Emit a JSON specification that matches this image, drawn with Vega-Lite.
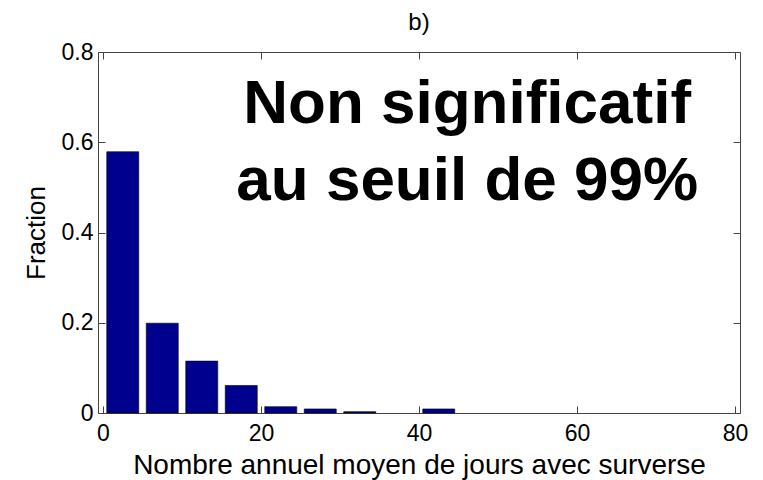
{
  "$schema": "https://vega.github.io/schema/vega-lite/v6.json",
  "width": 642,
  "height": 361,
  "autosize": {"type": "none"},
  "padding": {"left": 98, "top": 52, "right": 23, "bottom": 67},
  "background": "white",
  "config": {
    "font": "Liberation Sans",
    "view": {"stroke": "#444", "strokeWidth": 1},
    "axis": {"grid": false, "domain": false, "tickColor": "#444", "labelColor": "black", "titleColor": "black", "labelFont": "Liberation Sans", "titleFont": "Liberation Sans", "titleFontWeight": "normal"}
  },
  "title": {"text": "b)", "fontSize": 24, "fontWeight": "normal", "font": "Liberation Sans", "color": "black", "baseline": "bottom", "offset": -18},
  "datasets": {
    "bins": [
      {"center": 2.5, "fraction": 0.579},
      {"center": 7.5, "fraction": 0.199},
      {"center": 12.5, "fraction": 0.115},
      {"center": 17.5, "fraction": 0.061},
      {"center": 22.5, "fraction": 0.014},
      {"center": 27.5, "fraction": 0.009},
      {"center": 32.5, "fraction": 0.003},
      {"center": 42.5, "fraction": 0.009}
    ],
    "notes": [
      {"x": 46.1, "y": 0.643, "label": "Non significatif"},
      {"x": 46.1, "y": 0.472, "label": "au seuil de 99%"}
    ]
  },
  "layer": [
    {
      "data": {"name": "bins"},
      "mark": {"type": "bar", "width": 32, "color": "#00008F", "stroke": "black", "strokeWidth": 0.6},
      "encoding": {
        "x": {"field": "center", "type": "quantitative", "scale": {"domain": [0, 80], "nice": false, "zero": false},
          "axis": {"orient": "bottom", "values": [0, 20, 40, 60, 80], "tickSize": -7, "labelFontSize": 23, "labelPadding": 16, "labelFlush": false, "labelOverlap": false, "title": "Nombre annuel moyen de jours avec surverse", "titleFontSize": 28, "titlePadding": 6}},
        "y": {"field": "fraction", "type": "quantitative", "scale": {"domain": [0, 0.8], "nice": false},
          "axis": {"orient": "left", "values": [0, 0.2, 0.4, 0.6, 0.8], "format": ".1~f", "tickSize": -7, "labelFontSize": 23, "labelPadding": 12, "labelFlush": false, "labelOverlap": false, "title": "Fraction", "titleFontSize": 26, "titlePadding": 12}}
      }
    },
    {
      "data": {"name": "notes"},
      "mark": {"type": "text", "fontSize": 62, "fontWeight": "bold", "font": "Liberation Sans", "align": "center", "baseline": "alphabetic", "color": "black"},
      "encoding": {
        "x": {"field": "x", "type": "quantitative", "axis": {"orient": "top", "values": [0, 20, 40, 60, 80], "tickSize": -7, "labels": false, "title": null}},
        "y": {"field": "y", "type": "quantitative", "axis": {"orient": "right", "values": [0, 0.2, 0.4, 0.6, 0.8], "tickSize": -7, "labels": false, "title": null}},
        "text": {"field": "label"}
      }
    }
  ],
  "resolve": {"axis": {"x": "independent", "y": "independent"}}
}
